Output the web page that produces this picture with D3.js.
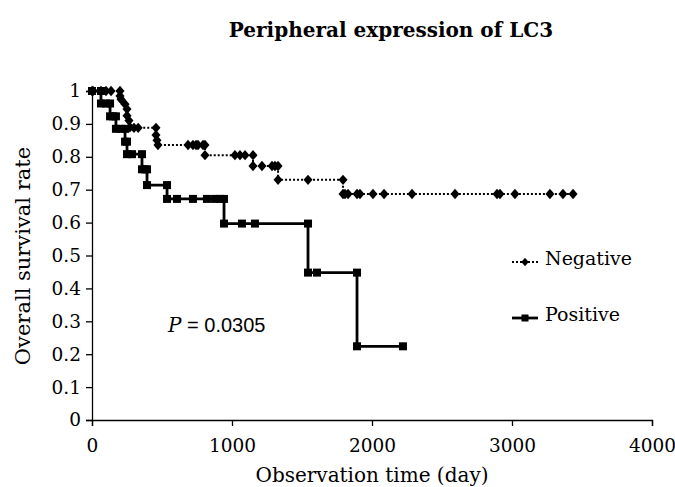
<!DOCTYPE html>
<html>
<head>
<meta charset="utf-8">
<script src="https://cdn.jsdelivr.net/npm/d3@7"></script>
<style>
  body { margin: 0; background: #fff; }
  svg text { font-family: "DejaVu Serif", "Liberation Serif", serif; fill: #000; }
</style>
</head>
<body>
<svg id="chart" width="675" height="487"></svg>
<script>
// survival curves, [day, rate]; repeated days give the vertical drops
let negative = [
  [0, 1], [7, 1], [64, 1], [100, 1], [136, 1], [200, 1],
  [200, 0.985], [207, 0.975], [236, 0.96], [250, 0.945], [250, 0.925], [264, 0.91], [271, 0.89],
  [300, 0.888], [330, 0.888], [457, 0.888],
  [457, 0.866], [464, 0.85], [471, 0.836], [686, 0.836], [721, 0.836], [743, 0.836], [757, 0.836], [793, 0.836], [807, 0.836],
  [807, 0.805], [1021, 0.805], [1057, 0.805], [1093, 0.805], [1150, 0.805],
  [1150, 0.772], [1214, 0.772], [1286, 0.772], [1307, 0.772], [1329, 0.772],
  [1329, 0.73], [1543, 0.73], [1793, 0.73],
  [1793, 0.687], [1807, 0.687], [1829, 0.687], [1893, 0.687], [1914, 0.687], [2007, 0.687], [2086, 0.687],
  [2286, 0.687], [2593, 0.687], [2893, 0.687], [2914, 0.687], [3021, 0.687], [3271, 0.687], [3364, 0.687], [3436, 0.687]
];
let positive = [
  [0, 1], [64, 1],
  [64, 0.962], [100, 0.962], [129, 0.962],
  [129, 0.923], [150, 0.923], [171, 0.923],
  [171, 0.885], [207, 0.885], [236, 0.885],
  [236, 0.846], [250, 0.846],
  [250, 0.808], [286, 0.808], [357, 0.808],
  [357, 0.762], [379, 0.762], [393, 0.762],
  [393, 0.714], [536, 0.714],
  [536, 0.672], [607, 0.672], [721, 0.672], [821, 0.672], [879, 0.672], [914, 0.672], [943, 0.672],
  [943, 0.597], [1071, 0.597], [1164, 0.597], [1543, 0.597],
  [1543, 0.448], [1607, 0.448], [1893, 0.448],
  [1893, 0.224], [2221, 0.224]
];
let xTicks = [0, 1000, 2000, 3000, 4000];
let yTicks = [0, 0.1, 0.2, 0.3, 0.4, 0.5, 0.6, 0.7, 0.8, 0.9, 1];

let svg = d3.select('#chart');
let mLeft = 92, mRight = 652, mTop = 91, mBottom = 420;

let x = d3.scaleLinear().domain([0, 4000]).range([mLeft, mRight]);
let y = d3.scaleLinear().domain([0, 1]).range([mBottom, mTop]);

// title
svg.append('text')
  .attr('x', 391).attr('y', 37)
  .attr('text-anchor', 'middle')
  .attr('font-size', 20).attr('font-weight', 'bold')
  .text('Peripheral expression of LC3');

// axes
let xAxis = svg.append('g')
  .attr('transform', 'translate(0,' + mBottom + ')')
  .call(d3.axisBottom(x).tickValues(xTicks).tickSize(6).tickPadding(13).tickFormat(d3.format('d')));
let yAxis = svg.append('g')
  .attr('transform', 'translate(' + mLeft + ',0)')
  .call(d3.axisLeft(y).tickValues(yTicks).tickSize(6).tickPadding(5).tickFormat(d => d === 0 || d === 1 ? d : d3.format('.1f')(d)));
[xAxis, yAxis].forEach(g => {
  g.select('.domain').attr('stroke', '#000').attr('stroke-width', 1.3);
  g.selectAll('.tick line').attr('stroke', '#000').attr('stroke-width', 1.3);
  g.selectAll('.tick text').attr('font-size', 18.5).attr('font-family', '"DejaVu Serif", serif');
});

svg.append('text')
  .attr('transform', 'translate(30,256) rotate(-90)')
  .attr('text-anchor', 'middle')
  .attr('font-size', 21)
  .text('Overall survival rate');
svg.append('text')
  .attr('x', 372).attr('y', 482)
  .attr('text-anchor', 'middle')
  .attr('font-size', 20)
  .text('Observation time (day)');

// curves
let line = d3.line().x(d => x(d[0])).y(d => y(d[1]));
let diamond = d3.symbol().type(d3.symbolDiamond2).size(52);

svg.append('path').datum(negative)
  .attr('d', line)
  .attr('fill', 'none').attr('stroke', '#000')
  .attr('stroke-width', 2).attr('stroke-dasharray', '2,2');
svg.selectAll('path.diamond').data(negative).enter()
  .append('path')
  .attr('class', 'diamond')
  .attr('d', diamond)
  .attr('transform', d => 'translate(' + x(d[0]) + ',' + y(d[1]) + ') scale(1,1.15)')
  .attr('fill', '#000');

svg.append('path').datum(positive)
  .attr('d', line)
  .attr('fill', 'none').attr('stroke', '#000')
  .attr('stroke-width', 2.8);
svg.selectAll('rect.square').data(positive).enter()
  .append('rect')
  .attr('class', 'square')
  .attr('x', d => x(d[0]) - 4).attr('y', d => y(d[1]) - 4)
  .attr('width', 8).attr('height', 8)
  .attr('fill', '#000');

// legend
let legend = svg.append('g');
legend.append('line')
  .attr('x1', 512).attr('x2', 538).attr('y1', 262).attr('y2', 262)
  .attr('stroke', '#000').attr('stroke-width', 2).attr('stroke-dasharray', '2,2');
legend.append('path')
  .attr('d', d3.symbol().type(d3.symbolDiamond2).size(34))
  .attr('transform', 'translate(525,262) scale(1,1.15)');
legend.append('text').attr('x', 545).attr('y', 265).attr('font-size', 19).text('Negative');
legend.append('line')
  .attr('x1', 512).attr('x2', 538).attr('y1', 318).attr('y2', 318)
  .attr('stroke', '#000').attr('stroke-width', 2.8);
legend.append('rect').attr('x', 521.5).attr('y', 314.5).attr('width', 7).attr('height', 7);
legend.append('text').attr('x', 545).attr('y', 321).attr('font-size', 19).text('Positive');

// p value
let p = svg.append('text').attr('x', 168).attr('y', 332).attr('font-size', 20);
p.append('tspan').attr('font-style', 'italic').text('P');
p.append('tspan').attr('font-family', 'Arial, "Liberation Sans", sans-serif').text(' = 0.0305');
</script>
</body>
</html>
